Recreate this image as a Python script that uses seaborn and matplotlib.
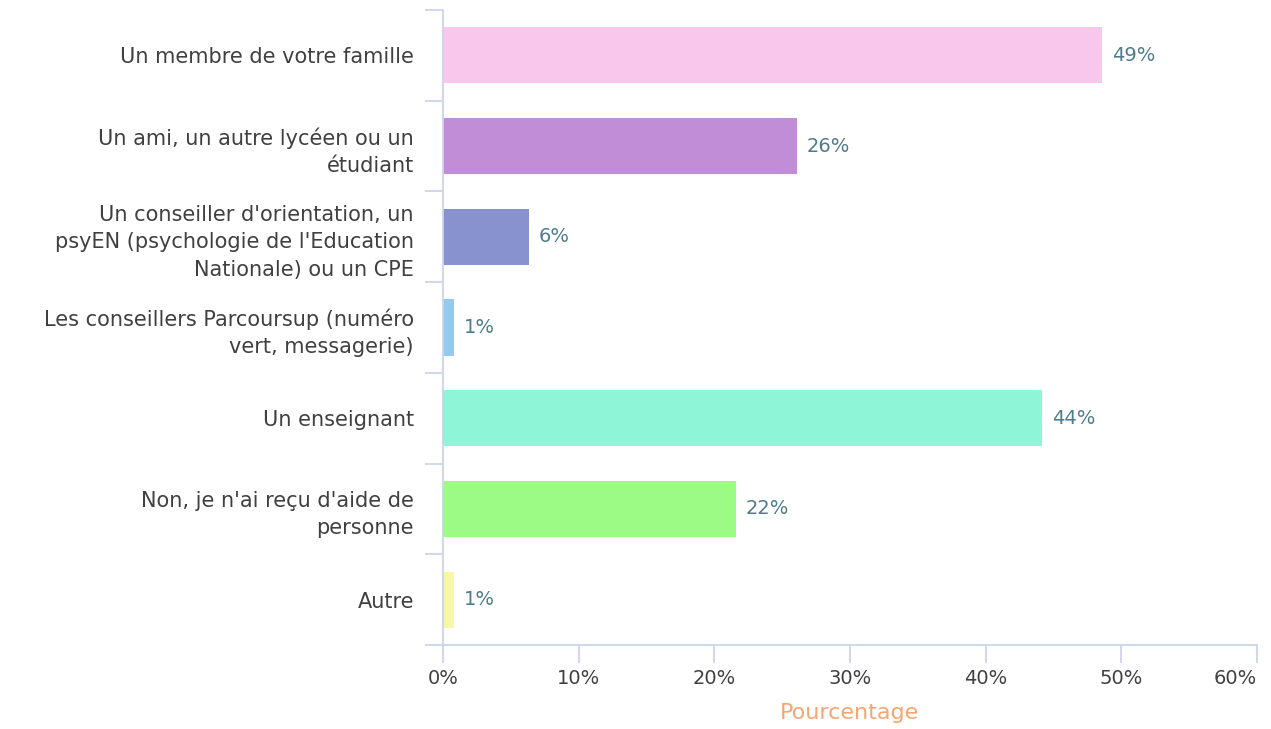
import matplotlib
matplotlib.use("Agg")
import matplotlib.pyplot as plt
from matplotlib.ticker import FixedLocator, PercentFormatter
import pandas as pd
import seaborn as sns

# Data
categories = [
    "Un membre de votre famille",
    "Un ami, un autre lycéen ou un\nétudiant",
    "Un conseiller d'orientation, un\npsyEN (psychologie de l'Education\nNationale) ou un CPE",
    "Les conseillers Parcoursup (numéro\nvert, messagerie)",
    "Un enseignant",
    "Non, je n'ai reçu d'aide de\npersonne",
    "Autre",
]
percentages = [48.6, 26.1, 6.3, 0.8, 44.2, 21.6, 0.8]
bar_colors = ["#F9C6EC", "#C08DD6", "#8892CF", "#92CBEF", "#8EF5D6", "#9CFB85", "#F8F7A8"]
x_ticks = [0, 10, 20, 30, 40, 50, 60]

axis_color = "#CAD4EB"
text_color = "#404040"
value_color = "#4F7B8E"
title_color = "#F5A673"

sns.set_theme(style="white")
plt.rcParams["font.family"] = ["DejaVu Sans"]

df = pd.DataFrame({"answer": categories, "pct": percentages})

fig = plt.figure(figsize=(12.71, 7.29), dpi=100)
ax = fig.add_axes([0.3486, 0.1152, 0.6402, 0.8711])

sns.barplot(
    data=df, y="answer", x="pct", hue="answer",
    palette=bar_colors, width=0.62, legend=False, ax=ax,
    saturation=1, linewidth=0,
)

for cont, v in zip(ax.containers, percentages):
    ax.bar_label(cont, labels=[f"{v:.0f}%"], padding=7,
                 color=value_color, fontsize=14)

ax.set_xlim(0, 60)
ax.set_ylim(len(categories) - 0.5, -0.5)
ax.xaxis.set_major_locator(FixedLocator(x_ticks))
ax.xaxis.set_major_formatter(PercentFormatter(decimals=0))

# category boundaries as minor ticks on the y axis
ax.yaxis.set_minor_locator(FixedLocator([i - 0.5 for i in range(len(categories) + 1)]))
ax.tick_params(axis="y", which="major", length=0, pad=21, labelsize=15, labelcolor=text_color)
ax.tick_params(axis="y", which="minor", length=13, width=1.3, color=axis_color, left=True)
ax.tick_params(axis="x", which="major", length=13, width=1.3, color=axis_color,
               bottom=True, labelsize=14, labelcolor=text_color, pad=4)

for lab in ax.get_yticklabels():
    lab.set_horizontalalignment("right")
    lab.set_multialignment("right")
    lab.set_linespacing(1.45)

xlabels = ax.get_xticklabels()
xlabels[-1].set_horizontalalignment("right")

for side in ["top", "right"]:
    ax.spines[side].set_visible(False)
for side in ["left", "bottom"]:
    ax.spines[side].set_color(axis_color)
    ax.spines[side].set_linewidth(1.3)

ax.set_ylabel("")
ax.set_xlabel("Pourcentage", color=title_color, fontsize=16, labelpad=11)

fig.savefig("out.png", dpi=100)
